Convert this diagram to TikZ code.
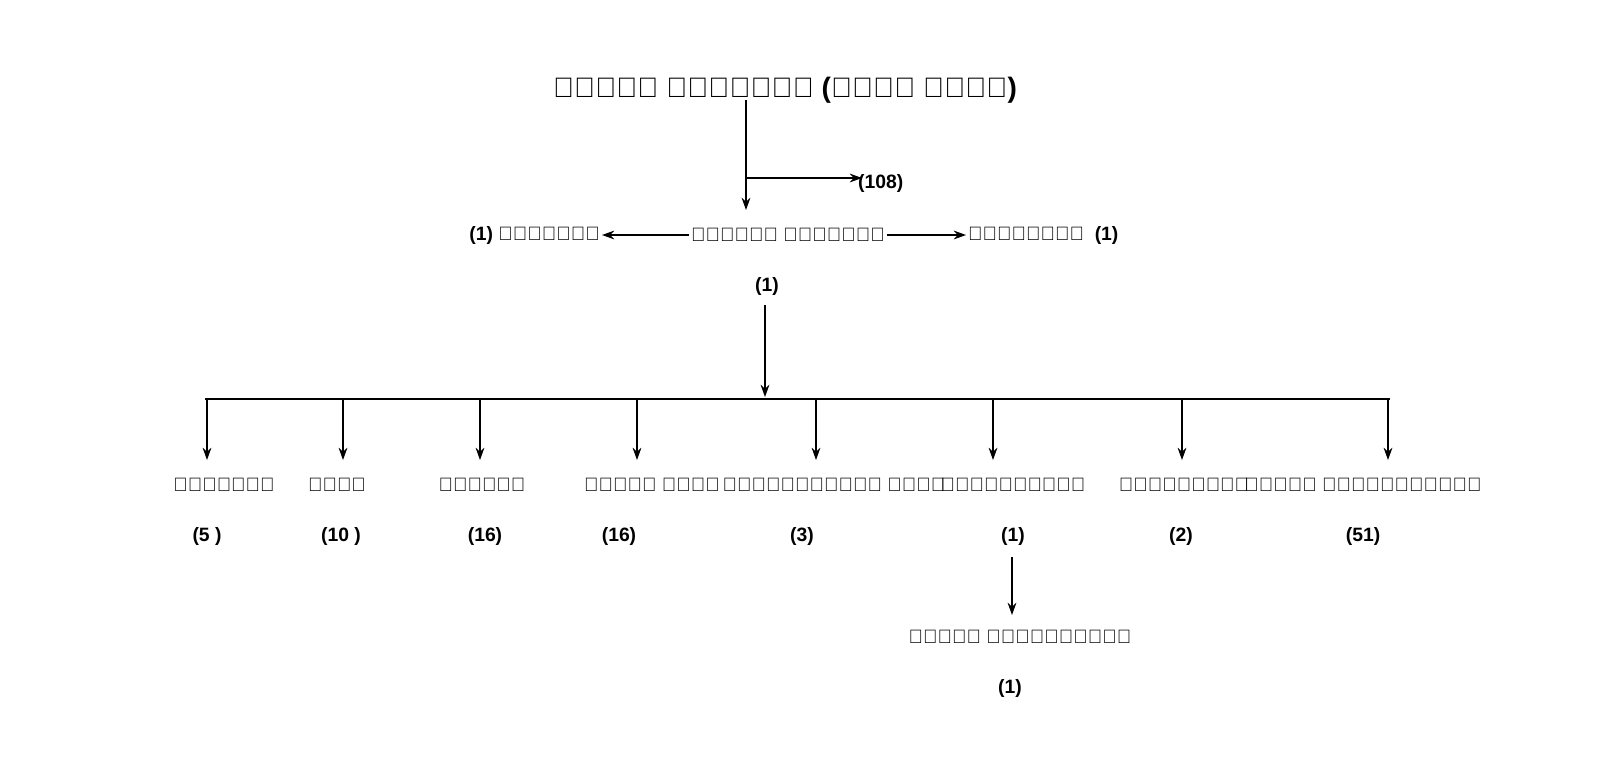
\documentclass[tikz,border=0pt]{standalone}
\usepackage{fontspec}
\setmainfont{Liberation Sans}
\usetikzlibrary{arrows.meta}
\begin{document}
\begin{tikzpicture}[x=0.02cm,y=-0.02cm,
  lbl/.style={font=\bfseries\fontsize{11}{13}\selectfont,inner sep=1pt},
  arr/.style={-{Stealth[length=7pt,width=5pt]},line width=0.8pt},
  ln/.style={line width=0.8pt}]
\useasboundingbox (0,0) rectangle (1600,778);
\node[lbl,font=\bfseries\fontsize{16}{18}\selectfont] (title) at (785,90) {संगठन प्रारूप (जिला स्तर)};
\coordinate (t0) at (746,100);
\coordinate (tb) at (746,178);
\coordinate (t1) at (746,210);
\draw[arr] (t0) -- (t1);
\coordinate (b1) at (862,178);
\draw[arr] (tb) -- (b1);
\node[lbl,anchor=west] (n108) at (856,183) {(108)};
\node[lbl] (adh) at (788,235) {संयोजक अध्यक्ष};
\node[lbl,anchor=east] (prabh) at (602,235) {(1) प्रभारी};
\node[lbl,anchor=west] (prav) at (966,235) {प्रवक्ता\ \ (1)};
\draw[arr] (adh.west) -- (prabh.east);
\draw[arr] (adh.east) -- (prav.west);
\node[lbl] (one) at (767,286) {(1)};
\coordinate (bar) at (765,397);
\draw[arr] (765,305) -- (bar);
\coordinate (hl) at (205,399);
\coordinate (hr) at (1390,399);
\draw[ln] (hl) -- (hr);
\foreach \x/\t/\tx/\n/\nx [count=\i] in {
 207/महासचिव/224/(5 )/207,
 343/सचिव/337/(10 )/341,
 480/सहसचिव/482/(16)/485,
 637/संगठन सचिव/652/(16)/619,
 816/कार्यकारिणी सचिव/834/(3)/802,
 993/कोषाध्यक्ष/1013/(1)/1013,
 1182/सहप्रभारी/1184/(2)/1181,
 1388/सदस्य कार्यकारिणी/1363/(51)/1363}{
  \coordinate (top\i) at (\x,399);
  \coordinate (bot\i) at (\x,460);
  \draw[arr] (top\i) -- (bot\i);
  \node[lbl] (lab\i) at (\tx,485) {\t};
  \node[lbl] (num\i) at (\nx,536) {\n};
}
\coordinate (s0) at (1012,557);
\coordinate (s1) at (1012,615);
\draw[arr] (s0) -- (s1);
\node[lbl] (sahayak) at (1020,637) {सहायक कोषाध्यक्ष};
\node[lbl] (sone) at (1010,688) {(1)};
\end{tikzpicture}
\end{document}
